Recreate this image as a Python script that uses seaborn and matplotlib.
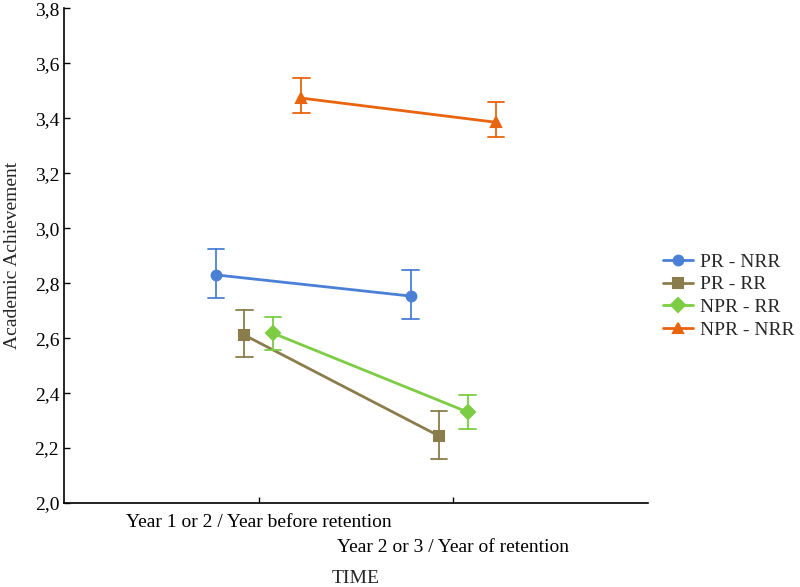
import numpy as np
import pandas as pd
import matplotlib
matplotlib.use("Agg")
import matplotlib.pyplot as plt
from matplotlib.ticker import FuncFormatter
import seaborn as sns

# values (mean, lower and upper end of error bar)
times = ['Year 1 or 2 / Year before retention', 'Year 2 or 3 / Year of retention']
groups = ['PR - NRR', 'PR - RR', 'NPR - RR', 'NPR - NRR']

pr_nrr_mean = [2.83, 2.753]
pr_nrr_low = [2.745, 2.669]
pr_nrr_high = [2.924, 2.847]

pr_rr_mean = [2.611, 2.244]
pr_rr_low = [2.531, 2.160]
pr_rr_high = [2.702, 2.335]

npr_rr_mean = [2.618, 2.331]
npr_rr_low = [2.556, 2.269]
npr_rr_high = [2.676, 2.393]

npr_nrr_mean = [3.473, 3.385]
npr_nrr_low = [3.418, 3.331]
npr_nrr_high = [3.545, 3.458]

colors = ['#4a80d6', '#8b7d4b', '#7ccc44', '#e8640f']

series = {
    'PR - NRR': (pr_nrr_mean, pr_nrr_low, pr_nrr_high),
    'PR - RR': (pr_rr_mean, pr_rr_low, pr_rr_high),
    'NPR - RR': (npr_rr_mean, npr_rr_low, npr_rr_high),
    'NPR - NRR': (npr_nrr_mean, npr_nrr_low, npr_nrr_high),
}

# long table: three rows per point (low, mean, high) -> median gives mean, min/max give error bar
rows = []
for g in groups:
    m, lo, hi = series[g]
    for i, t in enumerate(times):
        for v in (lo[i], m[i], hi[i]):
            rows.append({'time': t, 'group': g, 'value': v})
df = pd.DataFrame(rows)

sns.set_style('white')
plt.rcParams['font.family'] = ['Liberation Serif', 'DejaVu Serif']
plt.rcParams['xtick.direction'] = 'in'
plt.rcParams['ytick.direction'] = 'in'

fig = plt.figure(figsize=(8, 5.87), dpi=100)
ax = fig.add_axes([0.08, 0.143, 0.73, 0.843])

sns.pointplot(data=df, x='time', y='value', hue='group', order=times, hue_order=groups,
              estimator=np.median, errorbar=lambda v: (v.min(), v.max()),
              dodge=0.44, markers=['o', 's', 'D', '^'], linestyles='-',
              palette=colors, capsize=0.085, err_kws={'linewidth': 1.3},
              markersize=7, linewidth=2, ax=ax)

ax.set_xlim(-1, 2)
ax.set_ylim(2.0, 3.8)
ax.set_yticks(np.arange(2.0, 3.81, 0.2))
ax.yaxis.set_major_formatter(FuncFormatter(lambda v, p: f'{v:.1f}'.replace('.', ',')))
ax.tick_params(direction='in', length=4, width=1, labelsize=14, colors='black',
               bottom=True, left=True)
ax.set_xticks([0, 1])
ax.set_xticklabels(times)
ticks = ax.xaxis.get_major_ticks()
ticks[0].set_pad(8)
ticks[1].set_pad(26)

for s in ['top', 'right']:
    ax.spines[s].set_visible(False)
for s in ['left', 'bottom']:
    ax.spines[s].set_color('black')
    ax.spines[s].set_linewidth(1.2)

ax.set_xlabel('TIME', fontsize=14, labelpad=10)
ax.set_ylabel('Academic Achievement', fontsize=14, labelpad=10)

ax.legend(loc='upper left', bbox_to_anchor=(1.026, 0.505), frameon=False,
          fontsize=14, handlelength=1.55, handletextpad=0.36, labelspacing=0.26,
          borderaxespad=0, borderpad=0, title=None)

fig.savefig('out.png', dpi=100)
